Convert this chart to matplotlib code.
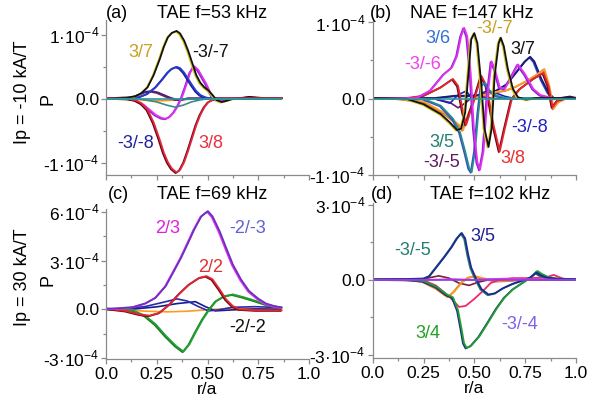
import matplotlib
matplotlib.use('Agg')
import matplotlib.pyplot as plt
from matplotlib.transforms import offset_copy

plt.rcParams['font.family'] = 'Liberation Sans'
plt.rcParams['mathtext.fontset'] = 'custom'
plt.rcParams['mathtext.rm'] = 'Liberation Sans'
plt.rcParams['axes.unicode_minus'] = False

# all P values are in units of 1e-4

# ---- (a) TAE f=53 kHz, Ip = -10 kA/T
a_x_k = [0, 0.10, 0.14, 0.17, 0.20, 0.23, 0.26, 0.28, 0.30, 0.32, 0.343, 0.36, 0.38, 0.40, 0.42,
         0.44, 0.46, 0.48, 0.50, 0.52, 0.54, 0.565, 0.59, 0.62, 0.66, 0.70, 0.74, 0.78, 0.86]
a_y_k = [0, 0.01, 0.03, 0.08, 0.17, 0.36, 0.61, 0.80, 0.95, 1.02, 1.05, 1.01, 0.90, 0.74, 0.55,
         0.36, 0.24, 0.17, 0.12, 0.05, -0.03, -0.06, -0.04, -0.01, 0.0, 0.02, 0.01, 0.0, 0.0]
a_x_r = [0, 0.10, 0.14, 0.17, 0.20, 0.23, 0.26, 0.28, 0.30, 0.32, 0.343, 0.36, 0.38, 0.40, 0.42,
         0.44, 0.46, 0.48, 0.50, 0.53, 0.56, 0.60, 0.86]
a_y_r = [0, -0.01, -0.03, -0.08, -0.18, -0.38, -0.65, -0.85, -1.0, -1.1, -1.16, -1.12, -1.0, -0.82,
         -0.62, -0.42, -0.26, -0.14, -0.06, -0.01, 0.0, 0.0, 0.0]
a_x_b = [0, 0.12, 0.16, 0.20, 0.24, 0.27, 0.30, 0.32, 0.343, 0.36, 0.38, 0.40, 0.42, 0.44, 0.46,
         0.48, 0.50, 0.53, 0.86]
a_y_b = [0, 0.0, 0.02, 0.07, 0.17, 0.28, 0.40, 0.46, 0.49, 0.47, 0.40, 0.30, 0.20, 0.11, 0.05,
         0.02, 0.0, 0.0, 0.0]
a_x_m = [0, 0.10, 0.14, 0.18, 0.21, 0.24, 0.27, 0.29, 0.31, 0.33, 0.35, 0.37, 0.39, 0.41, 0.43,
         0.45, 0.47, 0.49, 0.51, 0.53, 0.56, 0.60, 0.65, 0.70, 0.75, 0.86]
a_y_m = [0, 0.0, -0.03, -0.10, -0.18, -0.26, -0.31, -0.32, -0.29, -0.22, -0.12, 0.02, 0.20, 0.40,
         0.50, 0.44, 0.33, 0.22, 0.08, -0.02, -0.03, -0.01, 0.0, 0.02, 0.0, 0.0]
a_x_p = [0, 0.12, 0.16, 0.19, 0.22, 0.25, 0.28, 0.31, 0.34, 0.37, 0.40, 0.45, 0.86]
a_y_p = [0, 0.01, 0.06, 0.10, 0.11, 0.09, 0.05, 0.01, -0.02, -0.02, 0.0, 0.0, 0.0]
a_x_t = [0, 0.15, 0.20, 0.25, 0.30, 0.34, 0.38, 0.42, 0.46, 0.50, 0.86]
a_y_t = [0, 0, -0.02, -0.05, -0.10, -0.13, -0.10, -0.05, -0.02, 0.0, 0.0]
a_x_o = [0, 0.15, 0.22, 0.28, 0.34, 0.40, 0.46, 0.86]
a_y_o = [0, -0.01, -0.03, -0.03, -0.02, -0.01, 0.0, 0.0]

# ---- (b) NAE f=147 kHz
b_x_k = [0, 0.16, 0.245, 0.33, 0.375, 0.41, 0.43, 0.45, 0.465, 0.48, 0.495, 0.51, 0.53, 0.545,
         0.565, 0.58, 0.595, 0.615, 0.625, 0.64, 0.66, 0.685, 0.71, 0.75, 0.80, 1.0]
b_y_k = [0, -0.01, -0.08, -0.21, -0.32, -0.42, -0.40, -0.19, 0.29, 0.77, 0.85, 0.72, 0.16, -0.40,
         -0.64, -0.40, 0.29, 0.72, 0.79, 0.68, 0.38, 0.12, 0.01, -0.02, 0.0, 0.0]
b_x_r = [0, 0.16, 0.245, 0.33, 0.39, 0.415, 0.44, 0.455, 0.49, 0.53, 0.555, 0.59, 0.62, 0.645,
         0.68, 0.72, 0.785, 0.835, 0.86, 0.88, 0.905, 0.95, 1.0]
b_y_r = [0, 0.0, 0.03, 0.14, 0.25, 0.16, -0.19, -0.35, -0.06, 0.29, 0.16, -0.36, -0.70, -0.40,
         -0.01, 0.12, 0.25, 0.33, 0.16, -0.12, -0.03, 0.0, 0.0]
b_x_o = [0, 0.10, 0.25, 0.35, 0.42, 0.44, 0.47, 0.50, 0.55, 0.60, 0.65, 0.70, 0.75, 0.80, 0.84,
         0.865, 0.885, 0.91, 0.95, 1.0]
b_y_o = [0, 0.0, -0.05, -0.20, -0.35, -0.42, -0.20, 0.0, 0.05, 0.08, 0.10, 0.15, 0.22, 0.30, 0.38,
         0.15, -0.14, -0.05, 0.0, 0.0]
b_x_m = [0, 0.21, 0.28, 0.345, 0.385, 0.41, 0.43, 0.445, 0.46, 0.477, 0.493, 0.51, 0.523, 0.54,
         0.56, 0.58, 0.596, 0.62, 0.645, 0.68, 0.71, 0.745, 0.785, 0.82, 0.88, 1.0]
b_y_m = [0, 0.0, 0.10, 0.31, 0.40, 0.55, 0.81, 0.92, 0.81, 0.33, -0.40, -0.84, -0.94, -0.70,
         0.03, 0.48, 0.38, 0.14, 0.12, 0.29, 0.44, 0.31, 0.12, 0.04, 0.0, 0.0]
b_x_t = [0, 0.245, 0.33, 0.39, 0.425, 0.45, 0.47, 0.482, 0.498, 0.515, 0.53, 0.547, 0.57, 0.605,
         0.65, 1.0]
b_y_t = [0, -0.01, -0.10, -0.27, -0.45, -0.70, -0.92, -0.97, -0.70, -0.19, 0.16, 0.20, 0.10, 0.03,
         0.0, 0.0]
b_x_n = [0, 0.30, 0.40, 0.50, 0.54, 0.605, 0.655, 0.70, 0.745, 0.77, 0.79, 0.825, 0.86, 0.89,
         0.965, 1.0]
b_y_n = [0, 0.0, 0.03, 0.03, 0.05, 0.10, 0.18, 0.33, 0.48, 0.54, 0.48, 0.25, 0.07, -0.01, 0.02, 0.0]
b_x_d = [0, 0.30, 0.38, 0.42, 0.46, 0.49, 0.52, 0.56, 0.60, 0.65, 0.70, 1.0]
b_y_d = [0, 0.0, -0.06, 0.05, 0.10, 0.0, 0.05, 0.10, 0.08, 0.03, 0.0, 0.0]
b_x_p = [0, 0.30, 0.38, 0.42, 0.46, 0.50, 0.55, 0.60, 1.0]
b_y_p = [0, 0.0, -0.05, -0.12, -0.05, 0.05, 0.02, 0.0, 0.0]

# ---- (c) TAE f=69 kHz, Ip = 30 kA/T
c_x_m = [0, 0.06, 0.127, 0.19, 0.24, 0.29, 0.33, 0.365, 0.40, 0.43, 0.465, 0.497, 0.52, 0.555,
         0.587, 0.62, 0.66, 0.70, 0.745, 0.785, 0.825, 0.86]
c_y_m = [0, 0.03, 0.10, 0.33, 0.68, 1.40, 2.32, 3.14, 4.07, 4.89, 5.70, 6.02, 5.70, 4.78, 3.76,
         2.73, 1.81, 1.09, 0.62, 0.31, 0.16, 0.08]
c_x_r = [0, 0.094, 0.16, 0.21, 0.26, 0.31, 0.357, 0.406, 0.456, 0.49, 0.52, 0.555, 0.587, 0.62,
         0.653, 0.735, 0.86]
c_y_r = [0, -0.14, -0.35, -0.43, -0.25, 0.27, 0.92, 1.50, 1.91, 2.01, 1.81, 1.19, 0.57, 0.16,
         -0.04, -0.10, -0.10]
c_x_g = [0, 0.127, 0.19, 0.24, 0.29, 0.34, 0.377, 0.406, 0.44, 0.472, 0.505, 0.538, 0.58, 0.62,
         0.67, 0.735, 0.80, 0.86]
c_y_g = [0, -0.10, -0.45, -0.97, -1.68, -2.30, -2.65, -2.20, -1.38, -0.66, -0.04, 0.47, 0.78, 0.88,
         0.72, 0.47, 0.20, 0.06]
c_x_n = [0, 0.094, 0.19, 0.275, 0.35, 0.40, 0.456, 0.505, 0.555, 0.62, 0.735, 0.86]
c_y_n = [0, 0.06, 0.16, 0.41, 0.64, 0.51, 0.16, -0.10, -0.04, 0.12, 0.16, 0.10]
c_x_b = [0, 0.15, 0.25, 0.35, 0.44, 0.49, 0.538, 0.62, 0.735, 0.86]
c_y_b = [0, 0.03, 0.15, 0.35, 0.47, 0.16, -0.10, -0.04, 0.02, 0.0]
c_x_o = [0, 0.10, 0.20, 0.30, 0.40, 0.50, 0.60, 0.70, 0.86]
c_y_o = [0, -0.05, -0.12, -0.16, -0.12, -0.03, 0.05, 0.04, 0.0]

# ---- (d) TAE f=102 kHz
d_x_n = [0, 0.16, 0.245, 0.275, 0.30, 0.325, 0.35, 0.385, 0.41, 0.433, 0.45, 0.465, 0.48, 0.505,
         0.53, 0.565, 0.597, 0.638, 0.687, 0.735, 0.77, 0.80, 0.816, 0.85, 0.915, 1.0]
d_y_n = [0, 0.01, 0.03, 0.13, 0.39, 0.65, 0.91, 1.30, 1.63, 1.85, 1.63, 0.98, 0.46, 0.0, -0.39,
         -0.61, -0.56, -0.35, -0.17, -0.04, 0.07, 0.26, 0.17, 0.07, 0.01, 0.0]
d_x_g = [0, 0.16, 0.245, 0.31, 0.36, 0.39, 0.415, 0.433, 0.444, 0.457, 0.48, 0.52, 0.565, 0.605,
         0.645, 0.687, 0.735, 0.777, 0.806, 0.826, 0.858, 0.90, 1.0]
d_y_g = [0, -0.01, -0.07, -0.30, -0.61, -0.72, -1.24, -2.02, -2.54, -2.74, -2.65, -2.28, -1.70,
         -1.17, -0.72, -0.39, -0.13, 0.09, 0.33, 0.22, 0.09, 0.03, 0.0]
d_x_o = [0, 0.20, 0.245, 0.31, 0.35, 0.37, 0.40, 0.433, 0.465, 0.497, 0.54, 0.605, 0.687, 0.735, 1.0]
d_y_o = [0, -0.03, -0.09, -0.35, -0.59, -0.69, -0.46, -0.13, 0.07, 0.13, 0.04, -0.07, -0.04, 0.0, 0.0]
d_x_r = [0, 0.245, 0.31, 0.375, 0.425, 0.457, 0.497, 0.54, 0.58, 0.62, 0.687, 0.77, 0.85, 0.89,
         0.923, 0.955, 1.0]
d_y_r = [0, 0.0, -0.22, -0.65, -1.08, -1.04, -0.78, -0.46, -0.13, 0.0, 0.07, 0.07, 0.09, 0.20,
         0.09, 0.0, 0.0]
d_x_p = [0, 0.245, 0.325, 0.375, 0.425, 0.474, 0.52, 0.57, 1.0]
d_y_p = [0, 0.03, 0.16, 0.07, -0.13, -0.22, -0.09, 0.0, 0.0]
d_x_v = [0, 0.30, 0.40, 0.50, 0.55, 0.65, 0.80, 0.90, 1.0]
d_y_v = [0, 0.01, 0.03, 0.0, 0.03, 0.05, 0.03, 0.01, 0.0]

fig = plt.figure(figsize=(6.12, 4.11), dpi=100)

W, H = 612.0, 411.0
boxes = {
    'a': (106, 20, 309, 175),
    'b': (372.7, 20, 576, 175),
    'c': (106, 209, 309, 359),
    'd': (372.7, 203, 576, 358),
}
ylims = {'a': (-1.19, 1.23), 'b': (-1.0, 1.03), 'c': (-3.07, 6.19), 'd': (-3.12, 3.07)}
axes = {}
for k, (l, t, r, b) in boxes.items():
    ax = fig.add_axes([l / W, 1 - b / H, (r - l) / W, (b - t) / H])
    ax.set_facecolor('none')
    ax.set_xlim(0, 1)
    ax.set_ylim(*ylims[k])
    for s in ['top', 'right']:
        ax.spines[s].set_visible(False)
    for s in ['left', 'bottom']:
        ax.spines[s].set_color('#8a8a8a')
        ax.spines[s].set_linewidth(0.9)
    ax.tick_params(which='both', direction='out', color='#8a8a8a', width=0.9, labelsize=12.5,
                   pad=1.5)
    ax.tick_params(which='major', length=3.5)
    ax.tick_params(which='minor', length=2.5)
    ax.set_xticks([0, 0.25, 0.5, 0.75, 1.0])
    ax.set_xticks([0.125, 0.375, 0.625, 0.875], minor=True)
    axes[k] = ax

for k in ['a', 'b']:
    axes[k].set_yticks([-1, 0, 1])
    axes[k].set_yticklabels(['-1·10$^{\\mathregular{-4}}$', '0.0', '1·10$^{\\mathregular{-4}}$'])
    axes[k].set_yticks([-0.5, 0.5], minor=True)
    axes[k].set_xticklabels([])
axes['c'].set_yticks([-3, 0, 3, 6])
axes['c'].set_yticklabels(['-3·10$^{\\mathregular{-4}}$', '0.0', '3·10$^{\\mathregular{-4}}$',
                           '6·10$^{\\mathregular{-4}}$'])
axes['c'].set_yticks([-1.5, 1.5, 4.5], minor=True)
axes['d'].set_yticks([-3, 0, 3])
axes['d'].set_yticklabels(['-3·10$^{\\mathregular{-4}}$', '0.0', '3·10$^{\\mathregular{-4}}$'])
axes['d'].set_yticks([-1.5, 1.5], minor=True)
for k in ['c', 'd']:
    axes[k].set_xticklabels(['0.0', '0.25', '0.50', '0.75', '1.0'])
    axes[k].tick_params(axis='x', pad=2.5)
    axes[k].set_xlabel('r/a', fontsize=12.5, labelpad=0)


def pair(ax, x, y, c1, c2, lw=1.3):
    # curves in the original are drawn as two overlapping lines
    ax.plot(x, y, color=c1, lw=lw, solid_joinstyle='round')
    tr = offset_copy(ax.transData, fig=fig, x=1.0, y=0.6, units='dots')
    ax.plot(x, y, color=c2, lw=lw, transform=tr, solid_joinstyle='round')


ax = axes['a']
ax.plot(a_x_o, a_y_o, color='#ff8c1a', lw=1.2)
pair(ax, a_x_p, a_y_p, '#7a2050', '#4a2080')
pair(ax, a_x_m, a_y_m, '#8a20d0', '#e030f0')
pair(ax, a_x_b, a_y_b, '#1a1a90', '#2a3ad0')
pair(ax, a_x_k, a_y_k, '#d4c020', '#111111')
pair(ax, a_x_r, a_y_r, '#6a0010', '#e02840')
ax.plot(a_x_t, a_y_t, color='#3a8a8a', lw=1.2)
ax.plot([0, 0.86], [0, 0], color='#2a9a9a', lw=1.2)

ax = axes['b']
ax.plot(b_x_p, b_y_p, color='#6a1a6a', lw=1.2)
ax.plot(b_x_d, b_y_d, color='#2020c0', lw=1.2)
pair(ax, b_x_n, b_y_n, '#2a4ad0', '#1a1a70')
pair(ax, b_x_o, b_y_o, '#c07020', '#ff9a30')
pair(ax, b_x_r, b_y_r, '#7a0010', '#e02830')
pair(ax, b_x_t, b_y_t, '#3050c0', '#2a8a90')
pair(ax, b_x_m, b_y_m, '#8a20d0', '#e030f0')
pair(ax, b_x_k, b_y_k, '#d4c020', '#111111')
ax.plot([0, 1], [0, 0], color='#2a9a9a', lw=1.2)

ax = axes['c']
ax.plot(c_x_o, c_y_o, color='#ff9a20', lw=1.2)
ax.plot(c_x_b, c_y_b, color='#1a1a90', lw=1.2)
ax.plot(c_x_n, c_y_n, color='#2a2ab0', lw=1.2)
pair(ax, c_x_g, c_y_g, '#1a7a20', '#20a030')
pair(ax, c_x_r, c_y_r, '#7a0010', '#e02830')
pair(ax, c_x_m, c_y_m, '#e030f0', '#6a30c0')

ax = axes['d']
ax.plot(d_x_p, d_y_p, color='#7a2030', lw=1.2)
pair(ax, d_x_o, d_y_o, '#d06a20', '#ff9a20')
ax.plot(d_x_r, d_y_r, color='#f02a6a', lw=1.3)
pair(ax, d_x_g, d_y_g, '#1a2a80', '#20a030')
pair(ax, d_x_n, d_y_n, '#2a7a70', '#1a2a90')
ax.plot(d_x_v, d_y_v, color='#e030f0', lw=1.2)
ax.plot([0, 1], [0, 0], color='#8a40e0', lw=1.2)

fs = 13
# curve labels
axes['a'].text(0.17, 0.72, '3/7', color='#c8a020', fontsize=fs, ha='center', va='center')
axes['a'].text(0.515, 0.72, '-3/-7', color='#111111', fontsize=fs, ha='center', va='center')
axes['a'].text(0.147, -0.70, '-3/-8', color='#2020a0', fontsize=fs, ha='center', va='center')
axes['a'].text(0.515, -0.70, '3/8', color='#e83040', fontsize=fs, ha='center', va='center')

axes['b'].text(0.32, 0.79, '3/6', color='#3070d8', fontsize=fs, ha='center', va='center')
axes['b'].text(0.60, 0.92, '-3/-7', color='#c8a020', fontsize=fs, ha='center', va='center')
axes['b'].text(0.247, 0.45, '-3/-6', color='#f040f0', fontsize=fs, ha='center', va='center')
axes['b'].text(0.74, 0.64, '3/7', color='#111111', fontsize=fs, ha='center', va='center')
axes['b'].text(0.34, -0.58, '3/5', color='#208070', fontsize=fs, ha='center', va='center')
axes['b'].text(0.34, -0.83, '-3/-5', color='#601860', fontsize=fs, ha='center', va='center')
axes['b'].text(0.774, -0.38, '-3/-8', color='#2020c0', fontsize=fs, ha='center', va='center')
axes['b'].text(0.69, -0.79, '3/8', color='#e83030', fontsize=fs, ha='center', va='center')

axes['c'].text(0.306, 4.96, '2/3', color='#e020e0', fontsize=fs, ha='center', va='center')
axes['c'].text(0.696, 4.96, '-2/-3', color='#6060d8', fontsize=fs, ha='center', va='center')
axes['c'].text(0.513, 2.6, '2/2', color='#e03030', fontsize=fs, ha='center', va='center')
axes['c'].text(0.696, -1.1, '-2/-2', color='#111111', fontsize=fs, ha='center', va='center')

axes['d'].text(0.198, 1.16, '-3/-5', color='#208070', fontsize=fs, ha='center', va='center')
axes['d'].text(0.543, 1.75, '3/5', color='#202090', fontsize=fs, ha='center', va='center')
axes['d'].text(0.272, -2.16, '3/4', color='#20a020', fontsize=fs, ha='center', va='center')
axes['d'].text(0.725, -1.77, '-3/-4', color='#8060e8', fontsize=fs, ha='center', va='center')

# panel titles
fig.text(117 / W, 1 - 13 / H, '(a)', fontsize=fs, ha='center', va='center')
fig.text(212 / W, 1 - 13 / H, 'TAE f=53 kHz', fontsize=fs, ha='center', va='center')
fig.text(381 / W, 1 - 13 / H, '(b)', fontsize=fs, ha='center', va='center')
fig.text(472 / W, 1 - 13 / H, 'NAE f=147 kHz', fontsize=fs, ha='center', va='center')
fig.text(118 / W, 1 - 194 / H, '(c)', fontsize=fs, ha='center', va='center')
fig.text(212 / W, 1 - 194 / H, 'TAE f=69 kHz', fontsize=fs, ha='center', va='center')
fig.text(382 / W, 1 - 194 / H, '(d)', fontsize=fs, ha='center', va='center')
fig.text(490 / W, 1 - 194 / H, 'TAE f=102 kHz', fontsize=fs, ha='center', va='center')

# y labels
fig.text(48 / W, 1 - 99 / H, 'P', fontsize=fs, rotation=90, ha='center', va='center')
fig.text(48 / W, 1 - 280 / H, 'P', fontsize=fs, rotation=90, ha='center', va='center')
fig.text(23 / W, 1 - 92 / H, 'Ip = -10 kA/T', fontsize=fs, rotation=90, ha='center', va='center')
fig.text(23 / W, 1 - 277 / H, 'Ip = 30 kA/T', fontsize=fs, rotation=90, ha='center', va='center')

fig.savefig('out.png', dpi=100)
